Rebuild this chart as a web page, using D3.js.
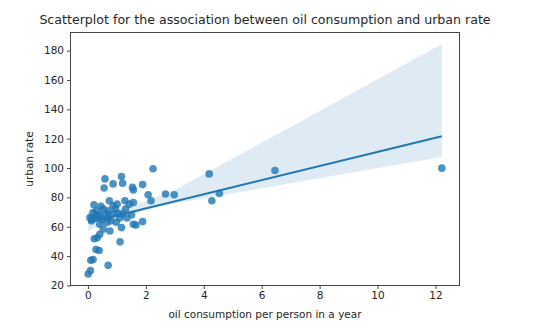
<!DOCTYPE html>
<html>
<head>
<meta charset="utf-8">
<script src="https://cdn.jsdelivr.net/npm/d3@7"></script>
<style>
  body { margin: 0; background: #fff; }
  svg text { font-family: "DejaVu Sans", sans-serif; fill: #262626; }
</style>
</head>
<body>
<svg id="chart" width="540" height="329"></svg>
<script>
// oil consumption per person (tonnes / year) and urban rate (%) per country
const oilPerPerson = [0.01, 0.09, 0.10, 0.18, 0.28, 0.39, 0.22, 0.32, 0.41, 0.70, 1.11, 1.16,
  0.59, 1.16, 1.20, 0.87, 0.56, 1.54, 1.57, 1.89, 2.08, 2.18, 2.68, 2.98,
  0.21, 0.30, 0.74, 0.87, 1.01, 1.28, 1.43, 1.57, 0.53, 0.70, 1.20, 1.51,
  0.07, 0.24, 0.41, 0.87, 1.05, 0.13, 0.41, 0.65, 0.53, 0.76, 1.57, 1.66, 1.89, 0.18, 0.70,
  2.25, 4.19, 4.28, 4.54, 6.46, 12.22,
  0.35, 0.50, 0.95, 1.10, 0.80, 0.45, 1.30, 0.62, 0.15, 0.98, 1.35];
const urbanRate = [27.8, 30.1, 37.2, 37.6, 44.5, 43.8, 51.8, 52.5, 54.8, 33.7, 49.7, 59.4,
  92.6, 94.2, 89.6, 89.2, 86.4, 86.8, 85.0, 88.7, 81.8, 77.7, 82.3, 81.8,
  75.0, 70.8, 77.7, 74.3, 75.4, 77.7, 75.4, 76.5, 72.0, 70.8, 68.6, 68.1,
  66.2, 66.2, 67.4, 68.6, 69.0, 64.0, 61.7, 62.8, 58.3, 57.1, 61.7, 61.2, 63.5, 69.7, 66.2,
  99.5, 96.0, 77.7, 82.7, 98.3, 99.9,
  68, 65, 72, 66, 64, 74, 72, 69, 66, 63, 66];

// 95% confidence band around the fitted line
const bandX  = [0.01, 0.5, 1, 1.5, 2, 3, 4, 6, 8, 10, 12.22];
const bandLo = [57, 62, 66, 68.5, 71, 76, 79.3, 86.2, 93.1, 100, 107.5];
const bandHi = [71, 71, 72, 74.5, 77.5, 85, 95.7, 117.3, 138.9, 160.5, 184.5];

const xTicks = [0, 2, 4, 6, 8, 10, 12];
const yTicks = [20, 40, 60, 80, 100, 120, 140, 160, 180];

const plot = {left: 70.5, right: 459.5, top: 32.5, bottom: 285.5};

const svg = d3.select("#chart");

// 5% padding around data like matplotlib autoscale
const pad = (lo, hi) => { const m = (hi - lo) * 0.05; return [lo - m, hi + m]; };
const xExt = d3.extent(oilPerPerson.concat(bandX));
const yExt = d3.extent(urbanRate.concat(bandLo, bandHi));

const x = d3.scaleLinear().domain(pad(xExt[0], xExt[1])).range([plot.left, plot.right]);
const y = d3.scaleLinear().domain(pad(yExt[0], yExt[1])).range([plot.bottom, plot.top]);

// least squares fit
const n = oilPerPerson.length;
const mx = d3.mean(oilPerPerson), my = d3.mean(urbanRate);
let sxy = 0, sxx = 0;
for (let i = 0; i < n; i++) {
  sxy += (oilPerPerson[i] - mx) * (urbanRate[i] - my);
  sxx += (oilPerPerson[i] - mx) ** 2;
}
const slope = sxy / sxx, intercept = my - slope * mx;

const band = bandX.map((d, i) => ({x: d, lo: bandLo[i], hi: bandHi[i]}));
svg.append("path")
  .datum(band)
  .attr("fill", "#1f77b4")
  .attr("fill-opacity", 0.15)
  .attr("d", d3.area().x(d => x(d.x)).y0(d => y(d.lo)).y1(d => y(d.hi)));

svg.append("g")
  .selectAll("circle")
  .data(oilPerPerson)
  .join("circle")
    .attr("cx", d => x(d))
    .attr("cy", (d, i) => y(urbanRate[i]))
    .attr("r", 3.8)
    .attr("fill", "#1f77b4")
    .attr("fill-opacity", 0.8);

const x0 = d3.min(oilPerPerson), x1 = d3.max(oilPerPerson);
svg.append("line")
  .attr("x1", x(x0)).attr("y1", y(intercept + slope * x0))
  .attr("x2", x(x1)).attr("y2", y(intercept + slope * x1))
  .attr("stroke", "#1f77b4")
  .attr("stroke-width", 2);

// frame
svg.append("rect")
  .attr("x", plot.left).attr("y", plot.top)
  .attr("width", plot.right - plot.left).attr("height", plot.bottom - plot.top)
  .attr("fill", "none").attr("stroke", "#444").attr("stroke-width", 1);

const xAxis = svg.append("g")
  .attr("transform", `translate(0,${plot.bottom})`)
  .call(d3.axisBottom(x).tickValues(xTicks).tickSize(3.5).tickPadding(3));
const yAxis = svg.append("g")
  .attr("transform", `translate(${plot.left},0)`)
  .call(d3.axisLeft(y).tickValues(yTicks).tickSize(3.5).tickPadding(3));
[xAxis, yAxis].forEach(g => {
  g.select(".domain").remove();
  g.selectAll("line").attr("stroke", "#444");
  g.selectAll("text").attr("font-size", "10.5px").attr("fill", "#262626")
    .attr("font-family", "DejaVu Sans, sans-serif");
});

svg.append("text")
  .attr("x", (plot.left + plot.right) / 2).attr("y", 318)
  .attr("text-anchor", "middle").attr("font-size", "10.5px")
  .text("oil consumption per person in a year");

svg.append("text")
  .attr("transform", `translate(33,${(plot.top + plot.bottom) / 2}) rotate(-90)`)
  .attr("text-anchor", "middle").attr("font-size", "10.5px")
  .text("urban rate");

svg.append("text")
  .attr("x", (plot.left + plot.right) / 2).attr("y", 24)
  .attr("text-anchor", "middle").attr("font-size", "12.6px")
  .text("Scatterplot for the association between oil consumption and urban rate");
</script>
</body>
</html>
